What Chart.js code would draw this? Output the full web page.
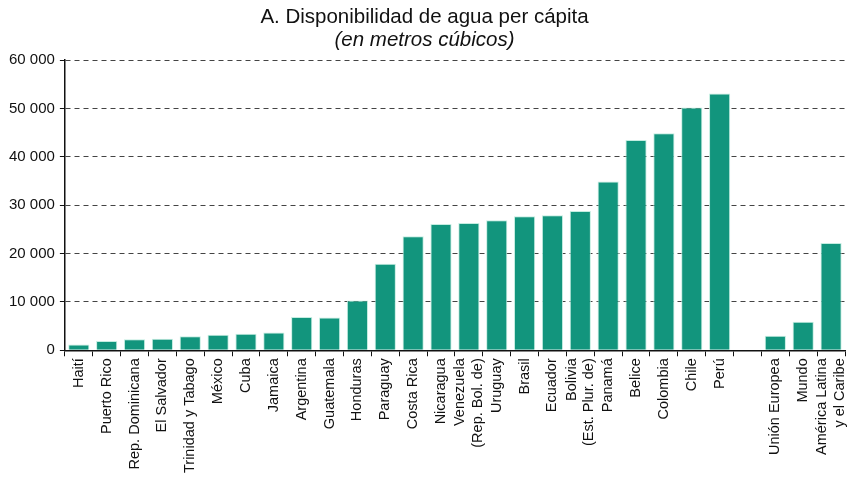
<!DOCTYPE html>
<html>
<head>
<meta charset="utf-8">
<script src="https://cdn.jsdelivr.net/npm/chart.js@4/dist/chart.umd.min.js"></script>
<style>
  html, body { margin: 0; padding: 0; background: #fff; }
  #wrap { width: 848px; height: 479px; position: relative; }
</style>
</head>
<body>
<div id="wrap"><canvas id="waterChart"></canvas></div>
<script>
const categories = [
  'Haití', 'Puerto Rico', 'Rep. Dominicana', 'El Salvador', 'Trinidad y Tabago',
  'México', 'Cuba', 'Jamaica', 'Argentina', 'Guatemala', 'Honduras', 'Paraguay',
  'Costa Rica', 'Nicaragua', ['Venezuela', '(Rep. Bol. de)'], 'Uruguay', 'Brasil',
  'Ecuador', ['Bolivia', '(Est. Plur. de)'], 'Panamá', 'Belice', 'Colombia',
  'Chile', 'Perú', '', 'Unión Europea', 'Mundo', ['América Latina', 'y el Caribe']
];
const values = [
  1200, 1900, 2300, 2400, 2900,
  3200, 3400, 3700, 6900, 6800, 10300, 17900,
  23600, 26100, 26300, 26900, 27700,
  27900, 28800, 34900, 43500, 44900,
  50200, 53100, null, 3000, 5900, 22200
];
const yTicks = [0, 10000, 20000, 30000, 40000, 50000, 60000];

const FONT = "'Liberation Sans', Arial, sans-serif";

function fmt(v) {
  return String(v).replace(/\B(?=(\d{3})+(?!\d))/g, ' ');
}

// centre multi-line rotated labels on their tick (Chart.js pushes extra lines to one side)
const centerLabels = {
  id: 'centerLabels',
  beforeDraw(chart) {
    const items = chart.scales.x.getLabelItems();
    items.forEach(it => {
      if (Array.isArray(it.label) && !it._shifted) {
        it.textOffset -= (it.label.length - 1) * it.font.lineHeight / 2;
        it._shifted = true;
      }
    });
  }
};

new Chart(document.getElementById('waterChart'), {
  type: 'bar',
  data: {
    labels: categories,
    datasets: [{
      data: values,
      backgroundColor: '#12957d',
      borderColor: 'rgba(190,235,222,0.9)',
      borderWidth: ctx => (ctx.raw == null ? 0 : 1),
      barPercentage: 0.76,
      categoryPercentage: 1
    }]
  },
  options: {
    responsive: true,
    maintainAspectRatio: false,
    animation: false,
    layout: { padding: { left: 4, right: 3, top: 0, bottom: 4 } },
    plugins: {
      legend: { display: false },
      tooltip: { enabled: false },
      title: {
        display: true,
        text: 'A. Disponibilidad de agua per cápita',
        color: '#111',
        font: { size: 20.5, family: FONT, weight: 'normal', lineHeight: 1.1 },
        padding: { top: 6, bottom: 0 }
      },
      subtitle: {
        display: true,
        text: '(en metros cúbicos)',
        color: '#111',
        font: { size: 20.5, family: FONT, style: 'italic', weight: 'normal', lineHeight: 1.1 },
        padding: { top: 0, bottom: 9 }
      }
    },
    scales: {
      x: {
        afterFit: sc => { sc.paddingLeft = 0; sc.paddingRight = 0; },
        grid: {
          display: true,
          drawOnChartArea: false,
          drawTicks: true,
          tickLength: 6,
          tickColor: '#111',
          offset: true
        },
        border: { color: '#111', width: 1.5 },
        ticks: {
          color: '#111',
          font: { size: 14.5, family: FONT },
          maxRotation: 90,
          minRotation: 90,
          autoSkip: false,
          padding: 2
        }
      },
      y: {
        min: 0,
        max: 60000,
        afterBuildTicks: axis => { axis.ticks = yTicks.map(v => ({ value: v })); },
        grid: {
          color: '#444',
          tickColor: '#111',
          tickLength: 5,
          lineWidth: 1
        },
        border: { color: '#111', width: 1.5, dash: [5, 4] },
        ticks: {
          color: '#111',
          font: { size: 15, family: FONT },
          padding: 5,
          callback: v => fmt(v)
        }
      }
    }
  },
  plugins: [centerLabels]
});
</script>
</body>
</html>
